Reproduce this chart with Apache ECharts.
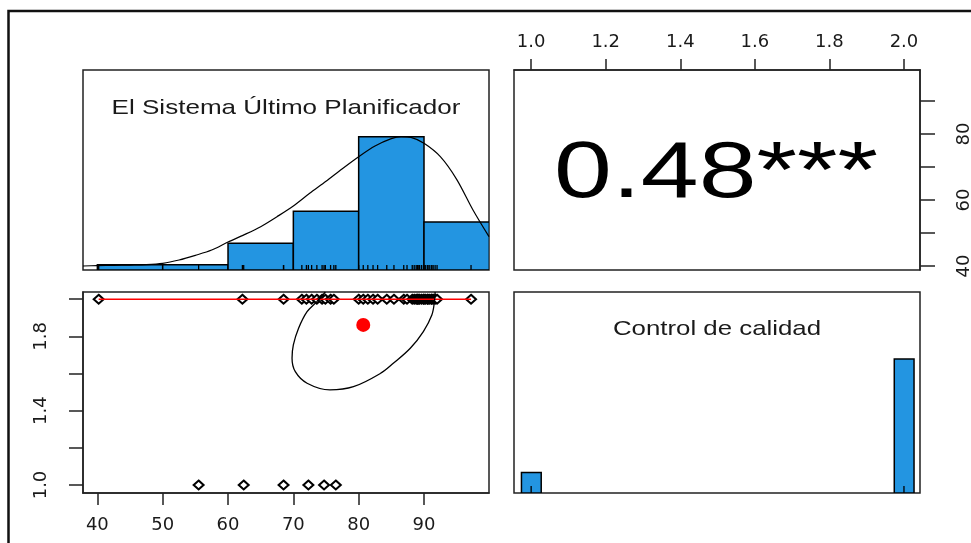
<!DOCTYPE html>
<html>
<head>
<meta charset="utf-8">
<script src="https://cdn.jsdelivr.net/npm/echarts@6/dist/echarts.min.js"></script>
<style>
  html, body { margin: 0; padding: 0; background: #fff; }
  #chart { width: 971px; height: 543px; }
</style>
</head>
<body>
<div id="chart"></div>
<script>
// Plan values split by quality level
const planQuality2 = [40.2, 62.2, 68.5, 71.3, 72.0, 72.8, 73.6, 74.4, 74.9, 75.7, 76.2,
  80.0, 80.7, 81.4, 82.2, 82.9, 84.3, 85.4, 86.9, 87.4, 88.2, 88.5, 88.8, 89.0, 89.1,
  89.3, 89.6, 89.9, 90.0, 90.2, 90.5, 90.6, 90.8, 91.1, 91.2, 91.4, 91.7, 92.0, 97.2];
const planQuality1 = [55.5, 62.4, 68.5, 72.3, 74.7, 76.5];

// histogram of the plan variable
const histEdges = [40, 50, 60, 70, 80, 90, 100];
const histCounts = [1, 1, 5, 11, 25, 9];

// density curve (scaled so its peak = 1)
const densityX = [37.8, 40, 42.5, 45, 47.5, 50, 52.5, 55, 57.5, 60, 62.5, 65, 67.5, 70,
  72.5, 75, 77.5, 80, 82.5, 85, 86.5, 88, 90, 92.5, 95, 97.5, 99.95];
const densityY = [0.03, 0.033, 0.035, 0.037, 0.04, 0.05, 0.075, 0.11, 0.15, 0.21, 0.265,
  0.325, 0.40, 0.48, 0.575, 0.665, 0.76, 0.85, 0.93, 0.985, 1.0, 0.995, 0.95, 0.85, 0.68,
  0.45, 0.25];

// quality histogram
const qualityLevels = [1, 2];
const qualityCounts = [6, 39];

// correlation ellipse outline, means and fit line
const ellipseX = [74.9, 73.6, 72.1, 70.8, 70.0, 69.8, 70.3, 72.1, 75.6, 79.2, 83.3, 85.3,
  87.9, 89.9, 91.2, 91.6, 91.7];
const ellipseY = [2.039, 1.987, 1.933, 1.844, 1.754, 1.682, 1.61, 1.548, 1.512, 1.529,
  1.60, 1.655, 1.736, 1.826, 1.915, 1.987, 2.039];
const meanPoint = [80.7, 1.862];
const fitX = [40.2, 97.2];
const fitY = [2, 2];

const corrLabel = '0.48***';
const planTitle = 'El Sistema Último Planificador';
const qualityTitle = 'Control de calidad';

const planTicks = [40, 50, 60, 70, 80, 90];
const planRightLabels = [40, 60, 80];
const qualityTicks = [1.0, 1.2, 1.4, 1.6, 1.8, 2.0];
const qualityLeftLabels = [1.0, 1.4, 1.8];

const BLUE = '#2395e1';
const INK = '#1a1a1a';
const TICK_FONT = 'DejaVu Sans';

const planAll = planQuality2.concat(planQuality1);
const maxCount = Math.max.apply(null, histCounts);
const maxQ = Math.max.apply(null, qualityCounts);

function histRender(params, api) {
  const p0 = api.coord([api.value(0), 0]);
  const p1 = api.coord([api.value(1), api.value(2)]);
  return {
    type: 'rect',
    shape: { x: p0[0], y: p1[1], width: p1[0] - p0[0], height: p0[1] - p1[1] },
    style: { fill: BLUE, stroke: '#000', lineWidth: 1.5 }
  };
}

function rugRender(len) {
  return function (params, api) {
    const p = api.coord([api.value(0), 0]);
    return {
      type: 'line',
      shape: { x1: p[0], y1: p[1], x2: p[0], y2: p[1] - len },
      style: { stroke: '#000', lineWidth: 1.3 }
    };
  };
}

const hidden = { show: false, splitLine: { show: false } };
const gridBox = {
  show: true, borderColor: '#222', borderWidth: 1.5, backgroundColor: '#fff',
  containLabel: false, outerBoundsMode: 'none'
};

const chart = echarts.init(document.getElementById('chart'), null, { renderer: 'canvas' });

chart.setOption({
  backgroundColor: '#fff',
  animation: false,
  grid: [
    Object.assign({ left: 83, top: 70, width: 406, height: 200 }, gridBox),
    Object.assign({ left: 514, top: 70, width: 406, height: 200 }, gridBox),
    Object.assign({ left: 83, top: 292, width: 406, height: 201 }, gridBox),
    Object.assign({ left: 514, top: 292, width: 406, height: 201 }, gridBox)
  ],
  xAxis: [
    Object.assign({ type: 'value', gridIndex: 0, min: 37.8, max: 99.95 }, hidden),
    {
      type: 'value', gridIndex: 1, position: 'top', min: 0.954, max: 2.043,
      splitLine: { show: false },
      axisLine: { show: true, lineStyle: { color: '#222', width: 1.5 } },
      axisTick: { show: true, length: 11, customValues: qualityTicks, lineStyle: { color: '#222', width: 1.5 } },
      axisLabel: {
        customValues: qualityTicks, margin: 19, color: INK, fontSize: 18, fontFamily: TICK_FONT,
        formatter: v => v.toFixed(1)
      }
    },
    {
      type: 'value', gridIndex: 2, position: 'bottom', min: 37.8, max: 99.95,
      splitLine: { show: false },
      axisLine: { show: true, lineStyle: { color: '#222', width: 1.5 } },
      axisTick: { show: true, length: 12, customValues: planTicks, lineStyle: { color: '#222', width: 1.5 } },
      axisLabel: {
        customValues: planTicks, margin: 23, color: INK, fontSize: 18, fontFamily: TICK_FONT
      }
    },
    Object.assign({ type: 'value', gridIndex: 3, min: 0.954, max: 2.043 }, hidden)
  ],
  yAxis: [
    Object.assign({ type: 'value', gridIndex: 0, min: 0, max: 1.5 * maxCount }, hidden),
    Object.assign({ type: 'value', gridIndex: 0, min: 0, max: 1.5 }, hidden),
    {
      type: 'value', gridIndex: 1, position: 'right', min: 38.8, max: 99.4,
      splitLine: { show: false },
      axisLine: { show: true, lineStyle: { color: '#222', width: 1.5 } },
      axisTick: { show: true, length: 15, customValues: planTicks, lineStyle: { color: '#222', width: 1.5 } },
      axisLabel: {
        customValues: planRightLabels, rotate: 90, margin: 35, color: INK, fontSize: 18,
        fontFamily: TICK_FONT
      }
    },
    {
      type: 'value', gridIndex: 2, position: 'left', min: 0.957, max: 2.039,
      splitLine: { show: false },
      axisLine: { show: true, lineStyle: { color: '#222', width: 1.5 } },
      axisTick: { show: true, length: 14, customValues: qualityTicks, lineStyle: { color: '#222', width: 1.5 } },
      axisLabel: {
        customValues: qualityLeftLabels, rotate: 90, margin: 33, color: INK, fontSize: 18,
        fontFamily: TICK_FONT, formatter: v => v.toFixed(1)
      }
    },
    Object.assign({ type: 'value', gridIndex: 3, min: 0, max: 1.5 * maxQ }, hidden)
  ],
  series: [
    // top-left: histogram + density + rug
    {
      type: 'custom', xAxisIndex: 0, yAxisIndex: 0, clip: true, z: 2,
      renderItem: histRender, encode: { x: [0, 1], y: 2 },
      data: histCounts.map((c, i) => [histEdges[i], histEdges[i + 1], c])
    },
    {
      type: 'custom', xAxisIndex: 0, yAxisIndex: 0, clip: true, z: 3,
      renderItem: rugRender(5), encode: { x: 0, y: 1 },
      data: planAll.map(v => [v, 0])
    },
    {
      type: 'line', xAxisIndex: 0, yAxisIndex: 1, clip: true, z: 4,
      smooth: 0.3, showSymbol: false, lineStyle: { color: '#000', width: 1.2 },
      data: densityX.map((x, i) => [x, densityY[i]])
    },
    // top-right: empty panel holding the axes
    { type: 'scatter', xAxisIndex: 1, yAxisIndex: 2, data: [] },
    // bottom-left: scatter, fit, ellipse, mean
    {
      type: 'scatter', xAxisIndex: 2, yAxisIndex: 3, z: 2,
      symbol: 'emptyDiamond', symbolSize: [10, 9],
      itemStyle: { color: '#000', borderWidth: 1.1, opacity: 1 },
      data: planQuality2.map(v => [v, 2]).concat(planQuality1.map(v => [v, 1]))
    },
    {
      type: 'line', xAxisIndex: 2, yAxisIndex: 3, z: 3, showSymbol: false,
      lineStyle: { color: '#ff0000', width: 1.5 },
      data: fitX.map((x, i) => [x, fitY[i]])
    },
    {
      type: 'line', xAxisIndex: 2, yAxisIndex: 3, z: 4, clip: true, showSymbol: false,
      smooth: 0.35, lineStyle: { color: '#000', width: 1.3 },
      data: ellipseX.map((x, i) => [x, ellipseY[i]])
    },
    {
      type: 'scatter', xAxisIndex: 2, yAxisIndex: 3, z: 5, symbol: 'circle', symbolSize: 14,
      itemStyle: { color: '#ff0000', opacity: 1 }, data: [meanPoint]
    },
    // bottom-right: quality histogram + rug
    {
      type: 'custom', xAxisIndex: 3, yAxisIndex: 4, clip: true, z: 2,
      renderItem: histRender, encode: { x: [0, 1], y: 2 },
      data: qualityLevels.map((q, i) => [q - 0.026, q + 0.027, qualityCounts[i]])
    },
    {
      type: 'custom', xAxisIndex: 3, yAxisIndex: 4, clip: true, z: 3,
      renderItem: rugRender(7), encode: { x: 0, y: 1 },
      data: qualityLevels.map(q => [q, 0])
    }
  ],
  graphic: [
    {
      type: 'polyline', silent: true, z: 10,
      shape: { points: [[8.5, 543], [8.5, 11], [971, 11]] },
      style: { stroke: '#111', lineWidth: 2.5, fill: null }
    },
    {
      type: 'text', x: 286, y: 108, scaleX: 1.24, z: 10,
      style: { text: planTitle, fontSize: 21, fontFamily: 'Liberation Sans', fill: INK,
        textAlign: 'center', textVerticalAlign: 'middle' }
    },
    {
      type: 'text', x: 717, y: 329, scaleX: 1.23, z: 10,
      style: { text: qualityTitle, fontSize: 21, fontFamily: 'Liberation Sans', fill: INK,
        textAlign: 'center', textVerticalAlign: 'middle' }
    },
    {
      type: 'text', x: 716, y: 175, scaleX: 1.3, z: 10,
      style: { text: corrLabel, fontSize: 80, fontFamily: 'Liberation Sans', fill: '#000',
        textAlign: 'center', textVerticalAlign: 'middle' }
    }
  ]
});
</script>
</body>
</html>
